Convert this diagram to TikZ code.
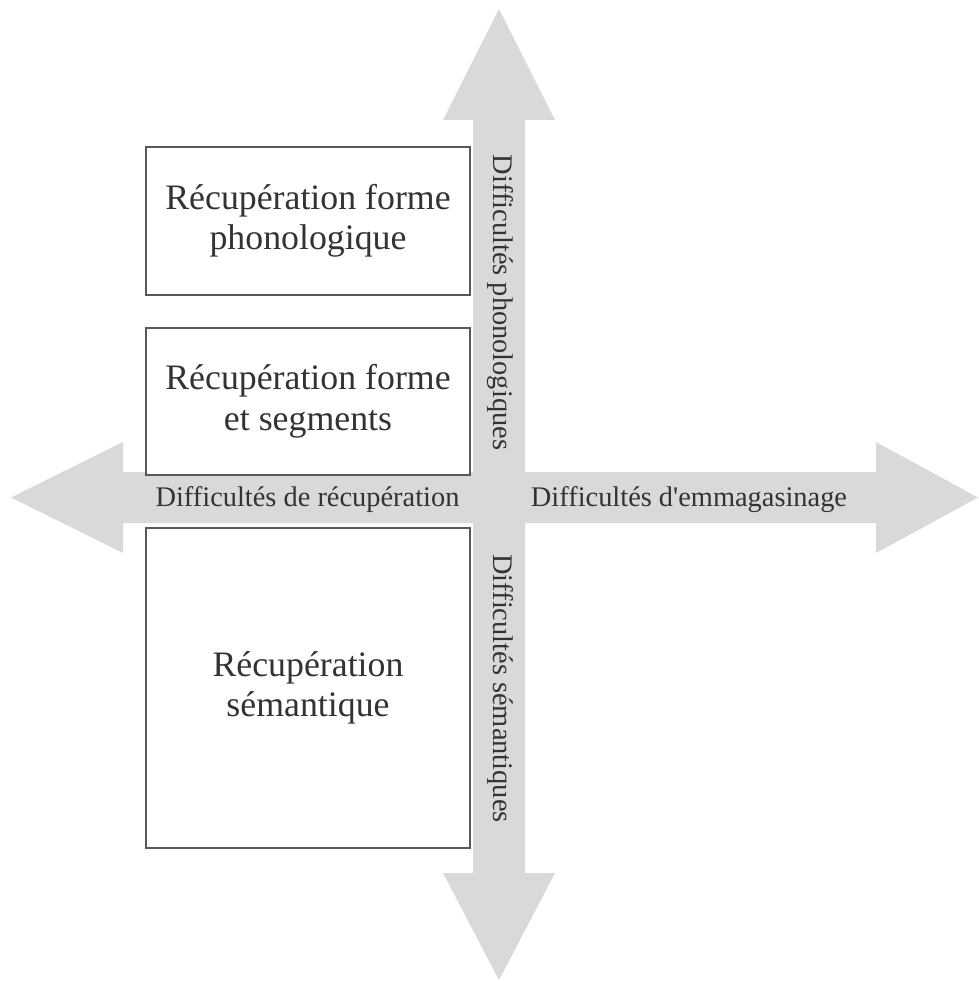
\documentclass[tikz,border=0pt]{standalone}
\usepackage{fontspec}
\setmainfont{Liberation Serif}
\definecolor{arrowgray}{HTML}{D9D9D9}
\definecolor{boxline}{HTML}{595959}
\definecolor{txt}{HTML}{333333}
\tikzset{
  box/.style={draw=boxline, line width=1.6pt, fill=white, minimum width=324pt, inner sep=0pt, align=center, text=txt, font=\fontsize{35.8}{40.5}\selectfont},
  axislabel/.style={text=txt, inner sep=0pt, font=\fontsize{28.4}{30}\selectfont}
}
\begin{document}
\begin{tikzpicture}[x=1pt,y=-1pt]
\useasboundingbox (0,0) rectangle (978,981);
% cross-shaped double arrows
\fill[arrowgray] (473,120) -- (443,120) -- (499,9) -- (555,120) -- (525,120) -- (525,472)
  -- (876,472) -- (876,442) -- (978,497.5) -- (876,553) -- (876,523) -- (525,523)
  -- (525,873) -- (555,873) -- (499,980) -- (443,873) -- (473,873) -- (473,523)
  -- (123,523) -- (123,553) -- (11,497.5) -- (123,442) -- (123,472) -- (473,472) -- cycle;
% boxes
\node[box, minimum height=148pt] (b1) at (308,221) {\raisebox{-3pt}{Récupération forme}\\\raisebox{-3pt}{phonologique}};
\node[box, minimum height=147pt] (b2) at (308,401.5) {\raisebox{-3pt}{Récupération forme}\\\raisebox{-3pt}{et segments}};
\node[box, minimum height=320pt] (b3) at (308,688) {\raisebox{-3pt}{Récupération}\\\raisebox{-3pt}{sémantique}};
% axis labels
\node[axislabel] (lrec) at (307.5,500) {Difficultés de récupération};
\node[axislabel] (lemm) at (689,500) {Difficultés d\textquotesingle emmagasinage};
\node[axislabel, rotate=-90] (lpho) at (500,302.5) {Difficultés phonologiques};
\node[axislabel, rotate=-90] (lsem) at (500,688.5) {Difficultés sémantiques};
\end{tikzpicture}
\end{document}
